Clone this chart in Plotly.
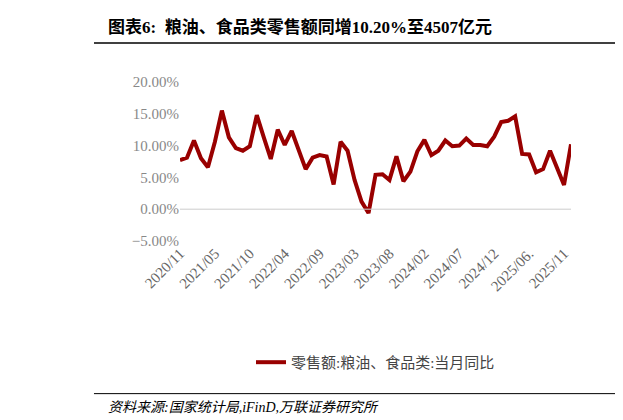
import plotly.graph_objects as go

values = [7.7,8.1,10.8,8.0,6.6,10.6,15.5,11.3,9.6,9.2,9.9,14.8,11.3,7.9,12.5,10.1,12.3,9.3,6.3,8.1,8.5,8.3,3.9,10.6,9.2,4.6,1.2,-0.6,5.4,
          5.5,4.6,8.3,4.4,5.9,9.1,10.9,8.5,9.2,10.8,9.9,10.0,11.1,10.1,10.1,9.9,11.4,13.7,13.9,14.6,8.7,8.6,5.8,6.3,9.2,6.3,3.8,10.2]
months = ["2020/11","2020/12"] + [f"{y}/{m:02d}" for y in range(2021,2026) for m in range(2,13)]
tick_labels = months[::5]
tick_text = [t if t != "2025/06" else "2025/06." for t in tick_labels]

serif = "Liberation Serif, Noto Sans CJK SC"
fig = go.Figure(go.Scatter(x=months, y=values, mode="lines", line=dict(color="#990000", width=4),
                           name="零售额:粮油、食品类:当月同比"))
fig.update_layout(
    width=623, height=420, margin=dict(l=172, r=60, t=74, b=187, autoexpand=False),
    plot_bgcolor="white", paper_bgcolor="white", font=dict(family=serif, color="#555", size=14),
    showlegend=True,
    legend=dict(orientation="h", x=0.5, xanchor="center", y=-0.66, yanchor="top", font=dict(size=15, color="#444")),
    xaxis=dict(type="category", tickmode="array", tickvals=tick_labels, ticktext=tick_text, tickangle=-45,
               range=[0, len(months)-1], automargin=False,
               showgrid=False, showline=False, ticks="", tickfont=dict(size=15, color="#666")),
    yaxis=dict(range=[-5, 20], dtick=5, tickformat=".2f", ticksuffix="%", showgrid=False, showline=False,
               automargin=False, zeroline=False, tickfont=dict(size=15, color="#888")),
    shapes=[
        dict(type="line", xref="paper", yref="y", x0=0, x1=1, y0=0, y1=0, line=dict(color="#ccc", width=1)),
        dict(type="line", xref="paper", yref="paper", x0=-0.22, x1=1.16, y0=1.245, y1=1.245, line=dict(color="black", width=1.5)),
        dict(type="line", xref="paper", yref="paper", x0=-0.22, x1=1.16, y0=-0.96, y1=-0.96, line=dict(color="black", width=1)),
    ],
    annotations=[
        dict(text="<b>图表6:  粮油、食品类零售额同增10.20%至4507亿元</b>", xref="paper", yref="paper",
             x=-0.19, y=1.27, xanchor="left", yanchor="bottom", showarrow=False, font=dict(size=17, color="black")),
        dict(text="<i>资料来源:国家统计局,iFinD,万联证券研究所</i>", xref="paper", yref="paper",
             x=-0.19, y=-0.99, xanchor="left", yanchor="top", showarrow=False, font=dict(size=14, color="black")),
    ],
)
fig.write_html("out.html")
